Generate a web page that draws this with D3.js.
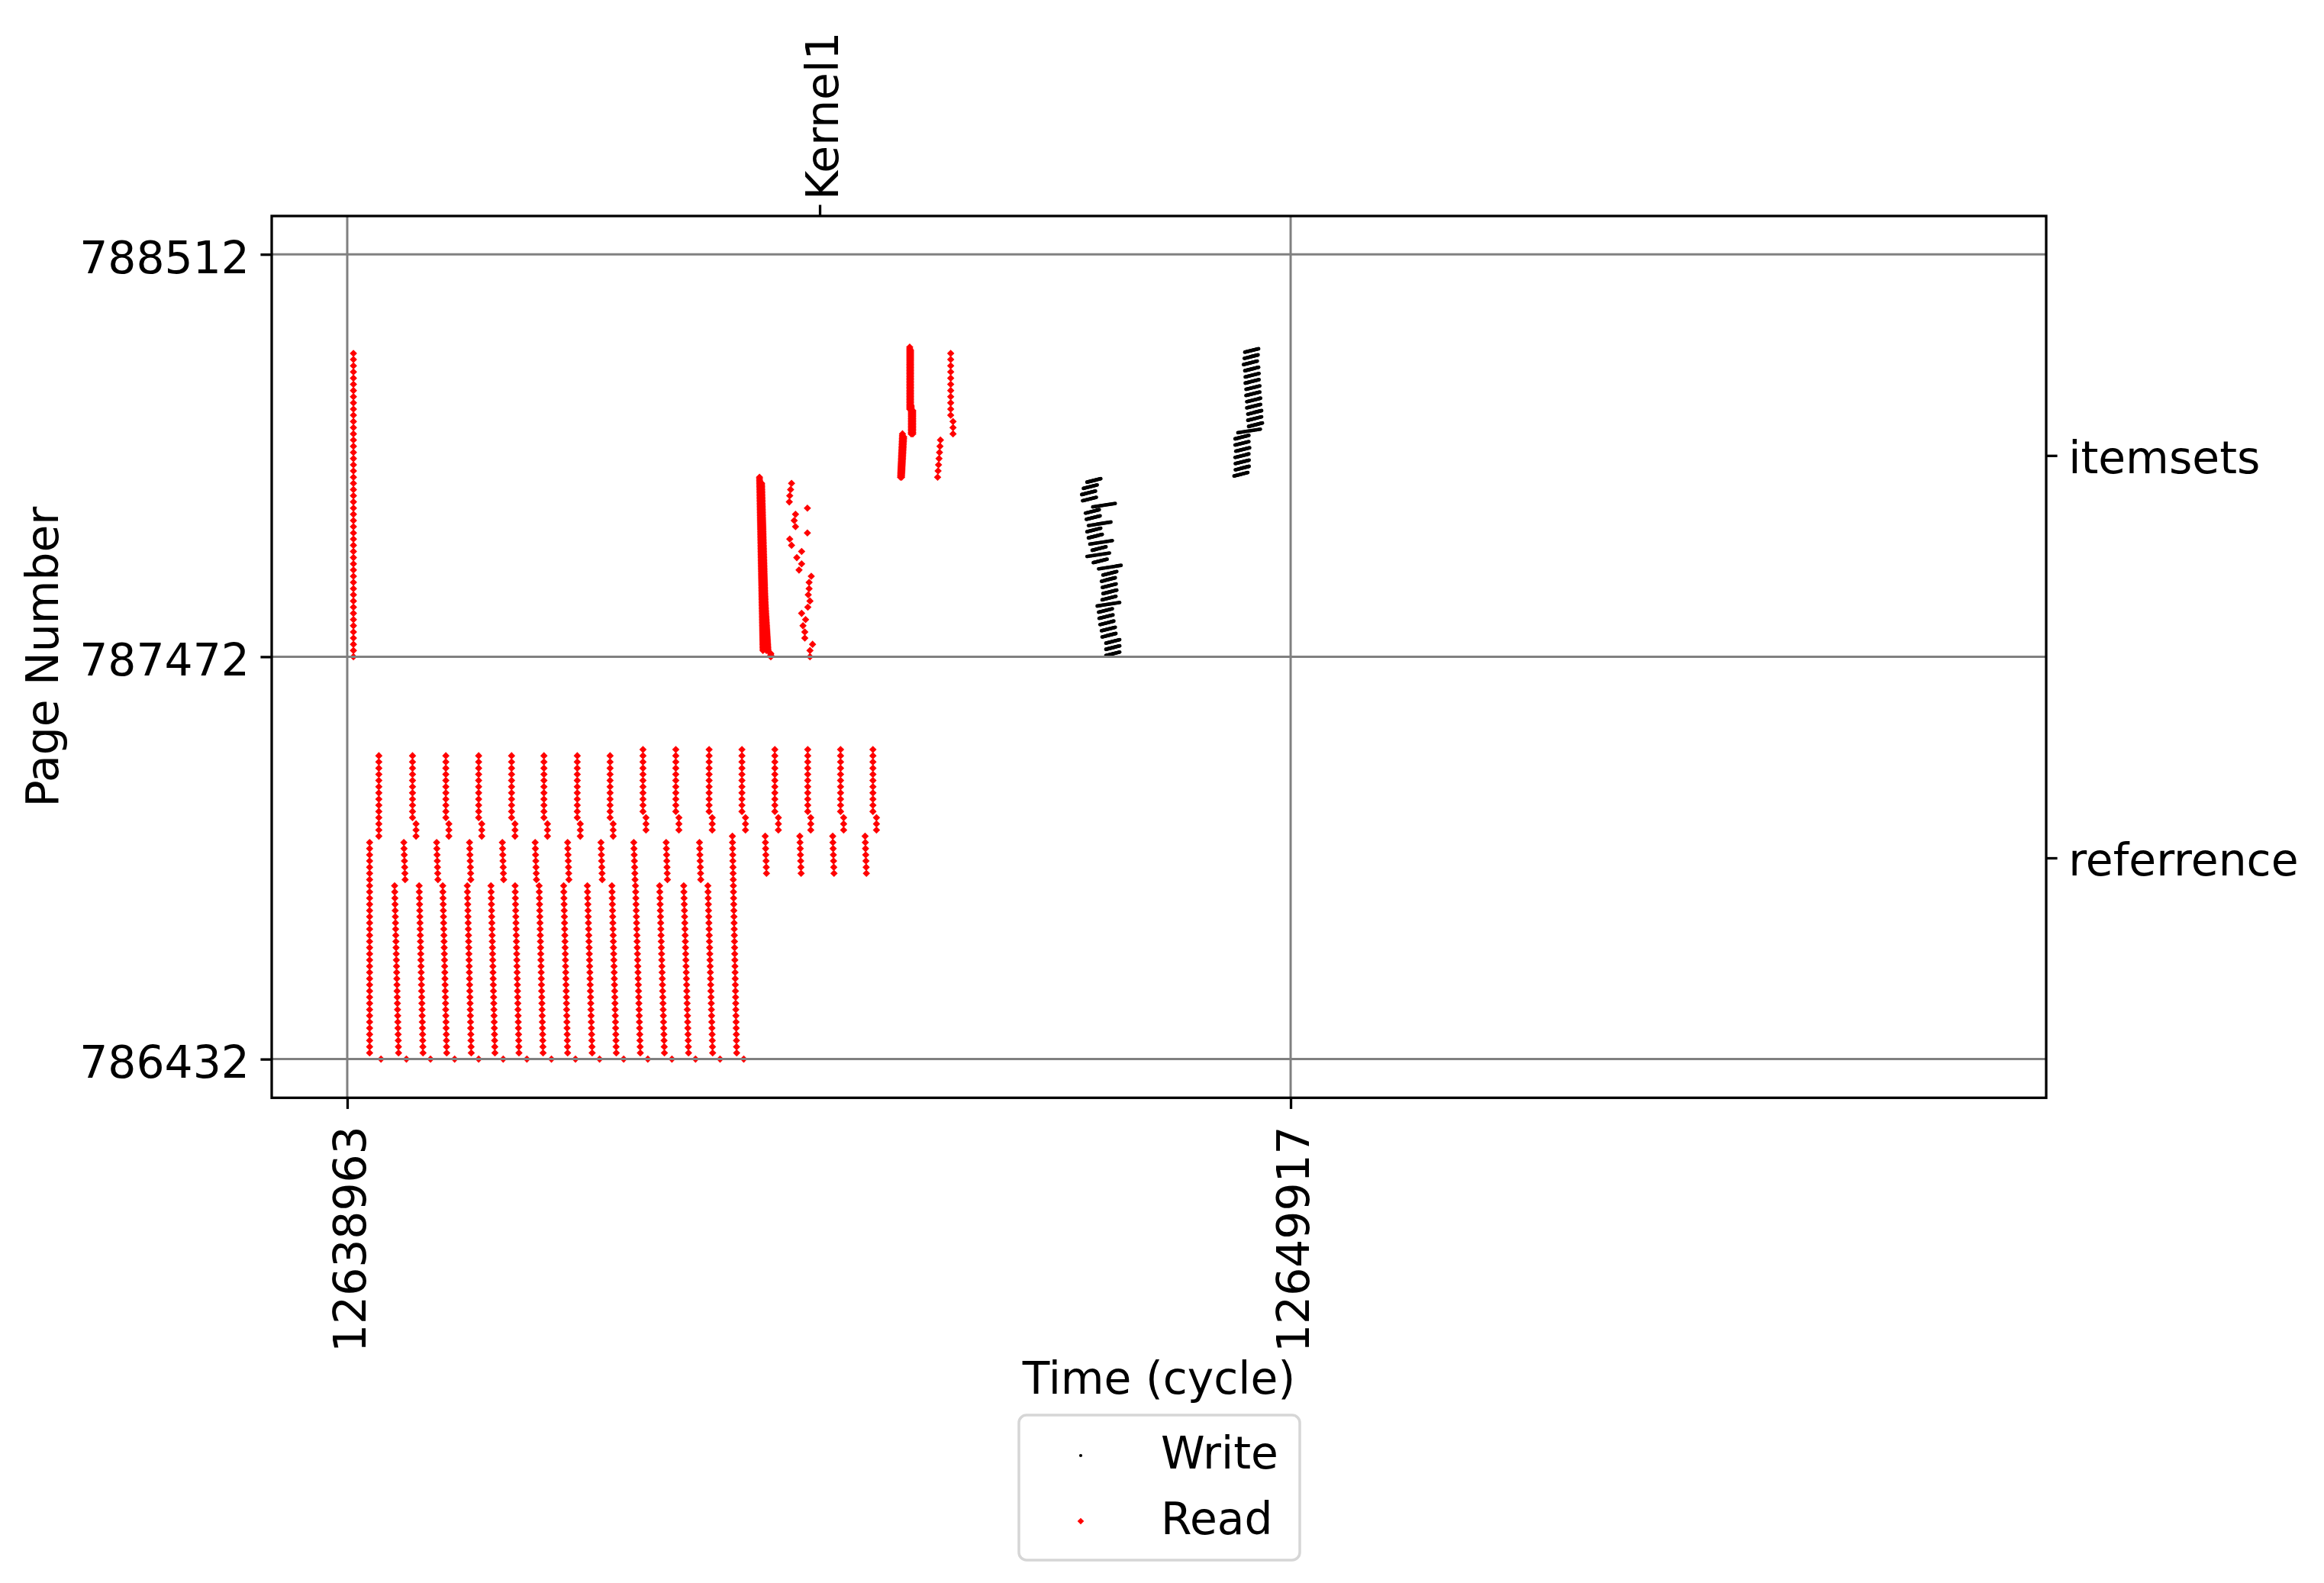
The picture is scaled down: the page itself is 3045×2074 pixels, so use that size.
<!DOCTYPE html>
<html><head><meta charset="utf-8">
<script src="https://cdn.jsdelivr.net/npm/d3@7"></script>
<style>html,body{margin:0;padding:0;background:#fff;} svg{display:block;} text{font-family:"DejaVu Sans";}</style>
</head><body>
<svg id="chart" width="3045" height="2074"></svg>
<script>
// ---------------- data ----------------
const xDomain = [12638086, 12658690];
const yDomain = [786332, 788611];
const xTickValues = [12638963, 12649917];
const yTickValues = [786432, 787472, 788512];
const regionNames = ["referrence", "itemsets"];
const regionCenters = [786952, 787992];
const kernelNames = ["Kernel1"];
const kernelTimes = [12644449];
const legendNames = ["Write", "Read"];

// read runs: [timeAtTopPage, timeAtBottomPage, bottomPage, topPage, pageStep]
const readRuns = [
  // itemsets
  [12639035, 12639035, 787472, 788256, 16],
  [12643750, 12643790, 787488, 787936, 4],
  [12643775, 12643830, 787488, 787920, 4],
  [12643790, 12643850, 787488, 787700, 4],
  [12643881, 12643881, 787472, 787480, 4],
  [12645410, 12645387, 787936, 788048, 4],
  [12645425, 12645400, 787936, 788040, 4],
  [12645530, 12645530, 788048, 788108, 4],
  [12645512, 12645512, 788048, 788120, 4],
  [12645494, 12645494, 788112, 788272, 4],
  [12645505, 12645505, 788112, 788264, 4],
  [12645851, 12645818, 787936, 788032, 16],
  [12645997, 12645997, 788048, 788080, 16],
  [12645970, 12645970, 788096, 788256, 16],
  // referrence: lower columns
  [12639223, 12639223, 786448, 786992, 16],
  [12639513, 12639559, 786448, 786880, 16],
  [12639798, 12639843, 786448, 786880, 16],
  [12640072, 12640118, 786448, 786880, 16],
  [12640357, 12640403, 786448, 786880, 16],
  [12640632, 12640678, 786448, 786880, 16],
  [12640912, 12640957, 786448, 786880, 16],
  [12641191, 12641237, 786448, 786880, 16],
  [12641476, 12641522, 786448, 786880, 16],
  [12641751, 12641807, 786448, 786880, 16],
  [12642036, 12642087, 786448, 786880, 16],
  [12642310, 12642366, 786448, 786880, 16],
  [12642590, 12642646, 786448, 786880, 16],
  [12642870, 12642926, 786448, 786880, 16],
  [12643150, 12643206, 786448, 786880, 16],
  [12643435, 12643485, 786448, 787008, 16],
  // referrence: middle columns
  [12639620, 12639635, 786896, 786992, 16],
  [12640001, 12640016, 786896, 786992, 16],
  [12640383, 12640398, 786896, 786992, 16],
  [12640764, 12640779, 786896, 786992, 16],
  [12641145, 12641160, 786896, 786992, 16],
  [12641522, 12641537, 786896, 786992, 16],
  [12641909, 12641924, 786896, 786992, 16],
  [12642290, 12642305, 786896, 786992, 16],
  [12642666, 12642681, 786896, 786992, 16],
  [12643053, 12643068, 786896, 786992, 16],
  [12643816, 12643831, 786912, 787008, 16],
  [12644218, 12644233, 786912, 787008, 16],
  [12644600, 12644615, 786912, 787008, 16],
  [12644976, 12644991, 786912, 787008, 16],
  // referrence: upper columns (main part and lower tail)
  [12639330, 12639330, 787008, 787216, 16],
  [12639721, 12639721, 787056, 787216, 16], [12639762, 12639762, 787008, 787040, 16],
  [12640108, 12640108, 787056, 787216, 16], [12640143, 12640143, 787008, 787040, 16],
  [12640489, 12640489, 787056, 787216, 16], [12640525, 12640525, 787008, 787040, 16],
  [12640871, 12640871, 787056, 787216, 16], [12640911, 12640911, 787008, 787040, 16],
  [12641247, 12641247, 787056, 787216, 16], [12641288, 12641288, 787008, 787040, 16],
  [12641634, 12641634, 787056, 787216, 16], [12641669, 12641669, 787008, 787040, 16],
  [12642015, 12642015, 787056, 787216, 16], [12642051, 12642051, 787008, 787040, 16],
  [12642397, 12642397, 787072, 787232, 16], [12642432, 12642432, 787024, 787056, 16],
  [12642778, 12642778, 787072, 787232, 16], [12642814, 12642814, 787024, 787056, 16],
  [12643165, 12643165, 787072, 787232, 16], [12643201, 12643201, 787024, 787056, 16],
  [12643546, 12643546, 787072, 787232, 16], [12643587, 12643587, 787024, 787056, 16],
  [12643928, 12643928, 787072, 787232, 16], [12643969, 12643969, 787024, 787056, 16],
  [12644310, 12644310, 787072, 787232, 16], [12644345, 12644345, 787024, 787056, 16],
  [12644691, 12644691, 787072, 787232, 16], [12644727, 12644727, 787024, 787056, 16],
  [12645067, 12645067, 787072, 787232, 16], [12645108, 12645108, 787024, 787056, 16]
];

// individual reads: [time, page]
const readPoints = [
  [12639355, 786432], [12639650, 786432], [12639930, 786432], [12640210, 786432],
  [12640489, 786432], [12640774, 786432], [12641049, 786432], [12641334, 786432],
  [12641613, 786432], [12641893, 786432], [12642173, 786432], [12642453, 786432],
  [12642733, 786432], [12643007, 786432], [12643292, 786432], [12643567, 786432],
  [12644122, 787920], [12644111, 787904], [12644101, 787888], [12644096, 787872],
  [12644306, 787856], [12644168, 787840], [12644153, 787824], [12644168, 787808],
  [12644306, 787792], [12644101, 787776], [12644122, 787760], [12644239, 787744],
  [12644183, 787728], [12644239, 787712], [12644209, 787696], [12644351, 787680],
  [12644326, 787664], [12644326, 787648], [12644316, 787632], [12644336, 787616],
  [12644311, 787600], [12644239, 787584], [12644285, 787568], [12644255, 787552],
  [12644276, 787536], [12644276, 787520], [12644366, 787504], [12644336, 787488],
  [12644336, 787472]
];

// write streaks: [startTime, endTime, startPage, endPage]
const writeStreaks = [
  [12647552, 12647712, 787923, 787932], [12647511, 12647671, 787907, 787916],
  [12647491, 12647651, 787891, 787900], [12647501, 12647661, 787875, 787884],
  [12647620, 12647880, 787859, 787868], [12647535, 12647695, 787843, 787852],
  [12647545, 12647705, 787827, 787836], [12647570, 12647830, 787811, 787820],
  [12647552, 12647712, 787795, 787804], [12647569, 12647729, 787779, 787788],
  [12647586, 12647846, 787763, 787772], [12647613, 12647773, 787747, 787756],
  [12647553, 12647813, 787731, 787740], [12647626, 12647786, 787715, 787724],
  [12647688, 12647948, 787699, 787708], [12647738, 12647898, 787683, 787692],
  [12647721, 12647881, 787667, 787676], [12647731, 12647891, 787651, 787660],
  [12647738, 12647898, 787635, 787644], [12647728, 12647888, 787619, 787628],
  [12647671, 12647931, 787603, 787612], [12647687, 12647847, 787587, 787596],
  [12647694, 12647854, 787571, 787580], [12647704, 12647864, 787555, 787564],
  [12647721, 12647881, 787539, 787548], [12647728, 12647888, 787523, 787532],
  [12647772, 12647932, 787507, 787516], [12647772, 12647932, 787491, 787500],
  [12647772, 12647932, 787475, 787484],
  [12649385, 12649545, 788259, 788268], [12649379, 12649539, 788243, 788252],
  [12649370, 12649530, 788227, 788236], [12649385, 12649545, 788211, 788220],
  [12649390, 12649550, 788195, 788204], [12649390, 12649550, 788179, 788188],
  [12649399, 12649559, 788163, 788172], [12649399, 12649559, 788147, 788156],
  [12649408, 12649568, 788131, 788140], [12649408, 12649568, 788115, 788124],
  [12649420, 12649580, 788099, 788108], [12649420, 12649580, 788083, 788092],
  [12649429, 12649589, 788067, 788076], [12649305, 12649565, 788051, 788060],
  [12649272, 12649432, 788035, 788044], [12649272, 12649432, 788019, 788028],
  [12649281, 12649441, 788003, 788012], [12649272, 12649432, 787987, 787996],
  [12649275, 12649435, 787971, 787980], [12649275, 12649435, 787955, 787964],
  [12649260, 12649420, 787939, 787948]
];

// ---------------- drawing ----------------
const FS = 58.3;
const L = 356, R = 2681, T = 283, B = 1438.3;
const svg = d3.select("#chart");
const x = d3.scaleLinear().domain(xDomain).range([L, R]);
const y = d3.scaleLinear().domain(yDomain).range([B, T]);

const reads = [];
readRuns.forEach(([tTop, tBot, pBot, pTop, step]) => {
  for (let p = pBot; p <= pTop; p += step) {
    const f = pTop === pBot ? 0 : (p - pBot) / (pTop - pBot);
    reads.push([tBot + (tTop - tBot) * f, p]);
  }
});
readPoints.forEach(d => reads.push(d));
const writes = [];
writeStreaks.forEach(([t0, t1, p0, p1]) => {
  for (let p = p0; p <= p1; p += 0.5) {
    writes.push([t0 + (t1 - t0) * (p - p0) / (p1 - p0), p]);
  }
});

svg.append("rect").attr("width", 3045).attr("height", 2074).attr("fill", "#fff");

const plot = svg.append("g");
const diamond = r => `M0,${-r}L${r},0L0,${r}L${-r},0Z`;
plot.append("g").selectAll("path").data(reads).join("path")
  .attr("d", diamond(4.8))
  .attr("transform", d => `translate(${x(d[0])},${y(d[1])})`)
  .attr("fill", "#ff0000");
plot.append("g").selectAll("circle").data(writes).join("circle")
  .attr("cx", d => x(d[0])).attr("cy", d => y(d[1])).attr("r", 2.4)
  .attr("fill", "#000");

// grid (drawn above the scatter like matplotlib's default zorder)
const grid = svg.append("g").attr("stroke", "#808080").attr("stroke-width", 3);
grid.selectAll("line.gx").data(xTickValues).join("line")
  .attr("x1", d => x(d)).attr("x2", d => x(d)).attr("y1", T).attr("y2", B);
grid.selectAll("line.gy").data(yTickValues).join("line")
  .attr("y1", d => y(d)).attr("y2", d => y(d)).attr("x1", L).attr("x2", R);

// axes
function styleAxis(g) {
  g.select(".domain").remove();
  g.selectAll(".tick line").attr("stroke", "#000").attr("stroke-width", 3.3);
  g.selectAll(".tick text").attr("fill", "#000").style("font-size", FS + "px").style("font-family", "DejaVu Sans");
}
const yAxis = svg.append("g").attr("transform", `translate(${L},0)`)
  .call(d3.axisLeft(y).tickValues(yTickValues).tickFormat(d3.format("d")).tickSize(14.6).tickPadding(14.6));
styleAxis(yAxis);
yAxis.selectAll(".tick text").attr("dy", "0.41em");

const xAxis = svg.append("g").attr("transform", `translate(0,${B})`)
  .call(d3.axisBottom(x).tickValues(xTickValues).tickFormat(d3.format("d")).tickSize(14.6).tickPadding(14.6));
styleAxis(xAxis);
xAxis.selectAll(".tick text")
  .attr("y", 0).attr("dy", "0.4em").attr("text-anchor", "end")
  .attr("transform", "translate(0,37) rotate(-90)");

const rAxis = svg.append("g").attr("transform", `translate(${R},0)`)
  .call(d3.axisRight(y).tickValues(regionCenters)
    .tickFormat((d, i) => regionNames[i]).tickSize(14.6).tickPadding(14.6));
styleAxis(rAxis);
rAxis.selectAll(".tick text").attr("dy", "0.39em");

const tAxis = svg.append("g").attr("transform", `translate(0,${T})`)
  .call(d3.axisTop(x).tickValues(kernelTimes)
    .tickFormat((d, i) => kernelNames[i]).tickSize(14.6).tickPadding(14.6));
styleAxis(tAxis);
tAxis.selectAll(".tick text")
  .attr("y", 0).attr("dy", "0.4em").attr("text-anchor", "start")
  .attr("transform", "translate(0,-21) rotate(-90)");

// frame
svg.append("rect").attr("x", L).attr("y", T).attr("width", R - L).attr("height", B - T)
  .attr("fill", "none").attr("stroke", "#000").attr("stroke-width", 3.3);

// axis labels
svg.append("text").attr("transform", `translate(75.5,${(T + B) / 2}) rotate(-90)`)
  .attr("text-anchor", "middle").style("font-size", FS + "px").text("Page Number");
svg.append("text").attr("x", (L + R) / 2).attr("y", 1826)
  .attr("text-anchor", "middle").style("font-size", FS + "px").text("Time (cycle)");

// legend
const lg = svg.append("g");
lg.append("rect").attr("x", 1335).attr("y", 1854).attr("width", 368).attr("height", 190)
  .attr("rx", 10).attr("fill", "#fff").attr("stroke", "#d6d6d6").attr("stroke-width", 3.5);
const legendRows = legendNames.map((n, i) => ({ name: n, yc: 1907 + i * 86 }));
lg.selectAll("text").data(legendRows).join("text")
  .attr("x", 1521).attr("y", d => d.yc + 17).style("font-size", FS + "px").text(d => d.name);
lg.append("circle").attr("cx", 1416).attr("cy", legendRows[0].yc).attr("r", 2.1).attr("fill", "#000");
lg.append("path").attr("d", diamond(4.3)).attr("transform", `translate(1416,${legendRows[1].yc})`).attr("fill", "#ff0000");
</script></body></html>
